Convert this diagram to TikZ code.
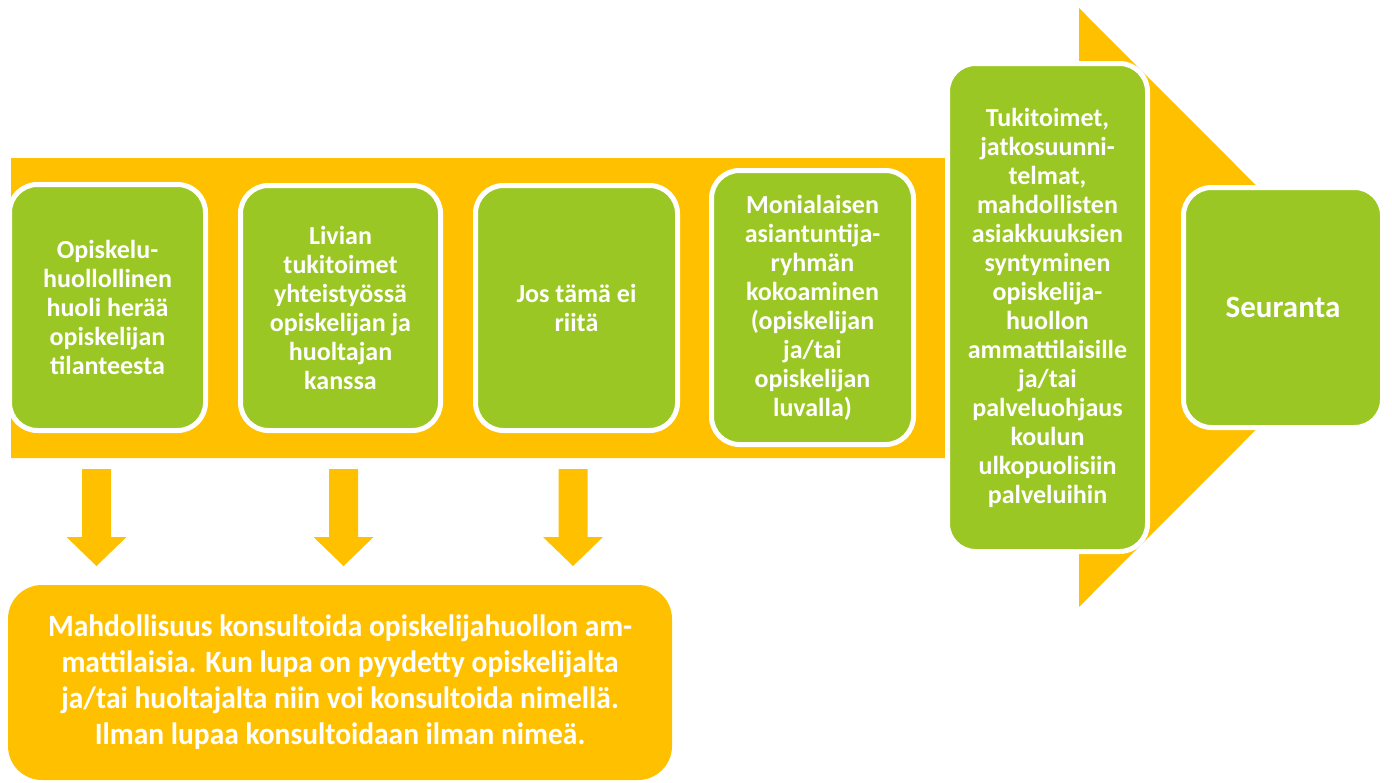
\documentclass[tikz,border=0pt]{standalone}
\usepackage{fontspec}
\setmainfont{Carlito}
\newfontfamily\kapea[FakeStretch=0.95]{Carlito}
\definecolor{keltainen}{HTML}{FFC000}
\definecolor{vihrea}{HTML}{9BC724}
\begin{document}
\begin{tikzpicture}[x=0.5pt,y=-0.5pt,
    vaihe/.style={draw=white,line width=2.5pt,fill=vihrea,rounded corners=14pt,
      text=white,align=center,inner sep=0pt,
      font=\bfseries\fontsize{13}{14.5}\selectfont},
    kons/.style={fill=keltainen,rounded corners=17pt,text=white,align=center,
      inner sep=0pt,font=\kapea\bfseries\fontsize{15.5}{18}\selectfont}]
  \useasboundingbox (0,0) rectangle (1392,782);
  \clip (0,0) rectangle (1392,782);
  % iso nuoli
  \fill[keltainen] (11,158) -- (1079,158) -- (1079,8) -- (1378,307.5)
    -- (1079,607) -- (1079,458) -- (11,458) -- cycle;
  % alas osoittavat nuolet
  \foreach \x in {96.5,343.5,573}
    \fill[keltainen] ({\x-14.5},469) -- ({\x+14.5},469) -- ({\x+14.5},537)
      -- ({\x+30},537) -- (\x,566) -- ({\x-30},537) -- ({\x-14.5},537) -- cycle;
  \draw
    (107.5,307.5) node[vaihe,minimum width=98pt,minimum height=123pt] (huoli)
      {Opiskelu-\\huollollinen\\huoli herää\\opiskelijan\\tilanteesta}
    (340.5,308) node[vaihe,minimum width=100pt,minimum height=122.5pt] (tuki)
      {Livian\\tukitoimet\\yhteistyössä\\opiskelijan ja\\huoltajan\\kanssa}
    (576.5,308) node[vaihe,minimum width=101pt,minimum height=122.5pt] (riita)
      {Jos tämä ei\\riitä}
    (812.5,307.5) node[vaihe,minimum width=101pt,minimum height=137pt] (ryhma)
      {Monialaisen\\asiantuntija-\\ryhmän\\kokoaminen\\(opiskelijan\\ja/tai\\opiskelijan\\luvalla)}
    (1047.5,307.5) node[vaihe,minimum width=100pt,minimum height=244pt] (jatko)
      {Tukitoimet,\\jatkosuunni-\\telmat,\\mahdollisten\\asiakkuuksien\\syntyminen\\opiskelija-\\huollon\\ammattilaisille\\ja/tai\\palveluohjaus\\koulun\\ulkopuolisiin\\palveluihin}
    (1283,307.5) node[vaihe,minimum width=99.5pt,minimum height=120pt,
      font=\bfseries\fontsize{15.5}{18}\selectfont] (seuranta) {Seuranta};
  \node[kons,minimum width=332pt,minimum height=97.5pt] (konsultointi) at (340,682.5)
    {Mahdollisuus konsultoida opiskelijahuollon am-\\mattilaisia. Kun lupa on pyydetty opiskelijalta\\ja/tai huoltajalta niin voi konsultoida nimellä.\\Ilman lupaa konsultoidaan ilman nimeä.};
\end{tikzpicture}
\end{document}
